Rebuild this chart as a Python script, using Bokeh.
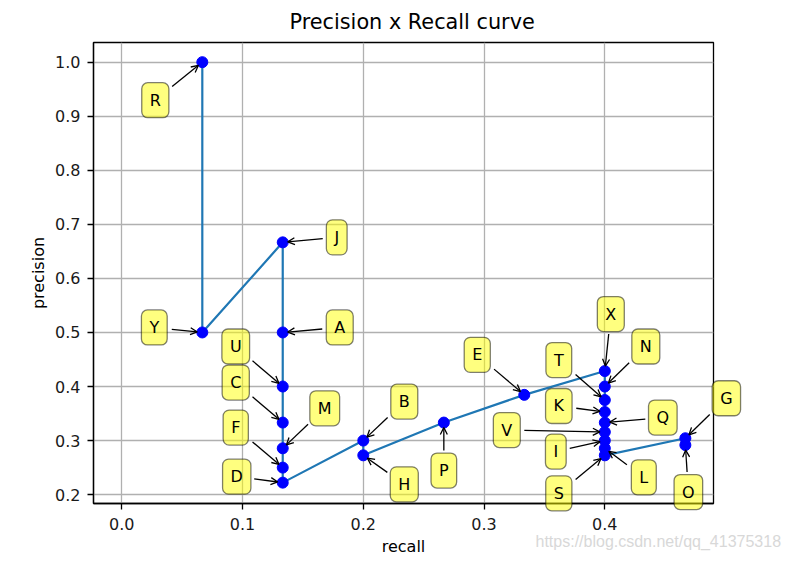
import math
from bokeh.plotting import figure
from bokeh.models import Label, Arrow, OpenHead, FixedTicker, Range1d, Title
from bokeh.embed import file_html
from bokeh.resources import INLINE

# ---------------- data ----------------
det_labels = ["R", "Y", "J", "A", "U", "C", "M", "F", "D", "B", "H", "P",
              "E", "X", "N", "T", "K", "Q", "V", "I", "L", "S", "G", "O"]
recall = [0.0667, 0.0667, 0.1333, 0.1333, 0.1333, 0.1333, 0.1333, 0.1333,
          0.1333, 0.2, 0.2, 0.2667, 0.3333, 0.4, 0.4, 0.4, 0.4, 0.4, 0.4,
          0.4, 0.4, 0.4, 0.4667, 0.4667]
precision = [1.0, 0.5, 0.6667, 0.5, 0.4, 0.3333, 0.2857, 0.25, 0.2222, 0.3,
             0.2727, 0.3333, 0.3846, 0.4286, 0.4, 0.375, 0.3529, 0.3333,
             0.3158, 0.3, 0.2857, 0.2727, 0.3043, 0.2917]
x_ticks = [0.0, 0.1, 0.2, 0.3, 0.4]
x_tick_labels = ["0.0", "0.1", "0.2", "0.3", "0.4"]
y_ticks = [0.2, 0.3, 0.4, 0.5, 0.6, 0.7, 0.8, 0.9, 1.0]
y_tick_labels = ["0.2", "0.3", "0.4", "0.5", "0.6", "0.7", "0.8", "0.9", "1.0"]
title_text = "Precision x Recall curve"
x_label = "recall"
y_label = "precision"
watermark = "https://blog.csdn.net/qq_41375318"

# ---------------- style: label box offsets (px right, px down) ----------------
label_offsets = {
    "R": (-47, 38), "Y": (-48, -5), "J": (54, -5), "A": (57, -5),
    "U": (-47, -40), "C": (-47, -40), "M": (42, -40), "F": (-47, -40),
    "D": (-46, -6), "B": (41, -39), "H": (41, 29), "P": (0, 48),
    "E": (-47, -40), "X": (6, -57), "N": (41, -40), "T": (-46, -40),
    "K": (-46, -6), "Q": (58, -5), "V": (-98, -2), "I": (-49, 11),
    "L": (39, 29), "S": (-46, 38), "G": (41, -40), "O": (3, 47),
}
# boxes that cross the frame edge go to a side panel so they are not clipped
panel_of = {"G": "right", "O": "right", "S": "left"}

X0, X1 = -0.0234, 0.4900
Y0, Y1 = 0.1836, 1.0364
FL, FT, FW, FH = 93, 42, 620, 461
W, H = 785, 561
FONT = "DejaVu Sans"

p = figure(width=W, height=H, x_range=Range1d(X0, X1), y_range=Range1d(Y0, Y1),
           output_backend="svg", toolbar_location=None,
           min_border_left=FL, min_border_right=W - FL - FW,
           min_border_top=FT, min_border_bottom=H - FT - FH)
p.background_fill_color = "white"
p.border_fill_color = "white"
p.outline_line_color = "black"
p.outline_line_width = 1.3

p.title.text = title_text
p.title.align = "left"
p.title.offset = 196
p.title.vertical_align = "top"
p.title.standoff = 13
p.title.text_font = FONT
p.title.text_font_size = "20.8px"
p.title.text_font_style = "normal"
p.title.text_color = "black"

for ax, ticks, labs, lab in ((p.xaxis[0], x_ticks, x_tick_labels, x_label),
                             (p.yaxis[0], y_ticks, y_tick_labels, y_label)):
    ax.ticker = FixedTicker(ticks=ticks)
    ax.major_label_overrides = {t: s for t, s in zip(ticks, labs)}
    ax.axis_label = lab
    ax.axis_label_text_font = FONT
    ax.axis_label_text_font_size = "16px"
    ax.axis_label_text_font_style = "normal"
    ax.axis_label_text_color = "black"
    ax.major_label_text_font = FONT
    ax.major_label_text_font_size = "16px"
    ax.major_label_text_color = "#1a1a1a"
    ax.major_tick_in = 0
    ax.major_tick_out = 6
    ax.minor_tick_in = 0
    ax.minor_tick_out = 0
    ax.major_tick_line_width = 1.3
    ax.axis_line_width = 1.3
    ax.axis_line_color = "black"

p.xaxis[0].major_label_standoff = 8
p.xaxis[0].axis_label_standoff = 4
p.yaxis[0].major_label_standoff = 7
p.yaxis[0].axis_label_standoff = 4

p.xgrid.ticker = FixedTicker(ticks=x_ticks)
p.ygrid.ticker = FixedTicker(ticks=y_ticks)
for g in (p.xgrid[0], p.ygrid[0]):
    g.grid_line_color = "#b0b0b0"
    g.grid_line_width = 1.3

p.line(recall, precision, line_color="#1f77b4", line_width=2.2)
p.scatter(recall, precision, size=11, fill_color="blue", line_color="blue", marker="circle")

sx = FW / (X1 - X0)
sy = FH / (Y1 - Y0)
HH = 17.0
for lab, r, pr in zip(det_labels, recall, precision):
    dx, dy = label_offsets[lab]
    lbl = Label(x=r, y=pr, x_offset=dx, y_offset=-dy, text=lab,
                text_align="center", text_baseline="middle",
                text_font=FONT, text_font_size="16px", text_color="black",
                background_fill_color="yellow", background_fill_alpha=0.5,
                border_line_color="black", border_line_alpha=0.5,
                border_line_width=1.3, padding=8, border_radius=6)
    p.add_layout(lbl, panel_of.get(lab, "center"))
    d = math.hypot(dx, dy)
    ux, uy = -dx / d, -dy / d
    hw = 11.0 if lab in "IJ" else 14.5
    te = min(hw / abs(ux) if ux != 0 else 1e9, HH / abs(uy) if uy != 0 else 1e9)
    spx, spy = dx + ux * (te + 3), dy + uy * (te + 3)
    epx, epy = -ux * 5, -uy * 5
    p.add_layout(Arrow(x_start=r + spx / sx, y_start=pr - spy / sy,
                       x_end=r + epx / sx, y_end=pr - epy / sy,
                       line_color="black", line_width=1.3,
                       end=OpenHead(size=7, line_color="black", line_width=1.3)))

# watermark: a zero-height title below the x axis, pulled up beside the axis label
p.add_layout(Title(text=watermark, align="left", offset=442, vertical_align="top",
                   standoff=-51, text_font="Liberation Sans", text_font_size="16px",
                   text_font_style="normal", text_color="#d8d8d8"), "below")

open("out.html", "w").write(file_html(p, INLINE))
